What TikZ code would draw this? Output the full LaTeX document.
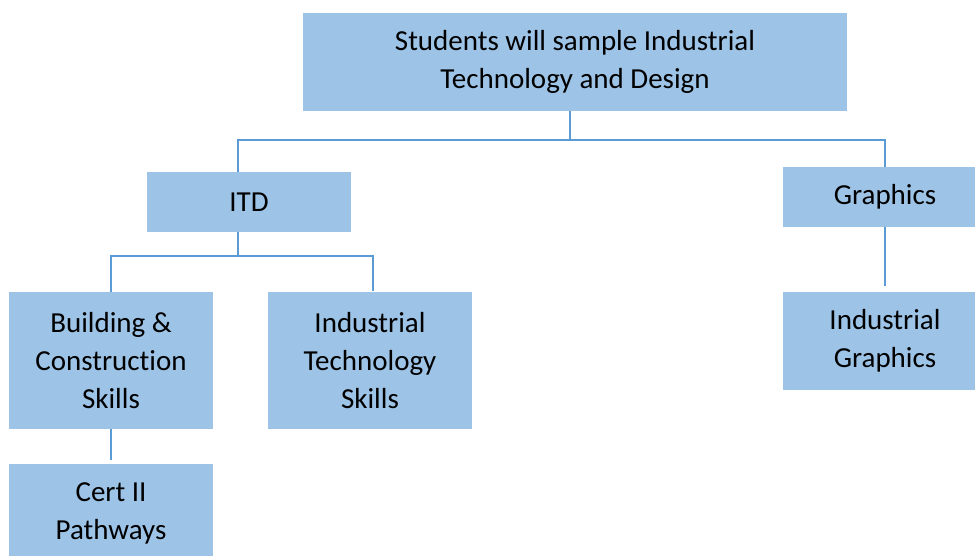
\documentclass[tikz,border=0pt]{standalone}
\usepackage{fontspec}
\setmainfont{Carlito}[Ligatures=NoCommon]
\definecolor{boxfill}{HTML}{9DC3E6}
\definecolor{linecol}{HTML}{5B9BD5}
\begin{document}
\begin{tikzpicture}[x=1pt,y=-1pt,
  box/.style={fill=boxfill,draw=none,inner sep=0pt,align=center,
    font=\fontsize{29}{38}\selectfont},
  conn/.style={draw=linecol,line width=2.2pt}]
\useasboundingbox (0,0) rectangle (975,555);
\begin{scope}
\clip (0,0) rectangle (975,555);
\node[box,minimum width=544pt,minimum height=98pt] (top) at (575,62) {Students will sample Industrial\\Technology and Design};
\node[box,minimum width=204pt,minimum height=60pt] (itd) at (249,202) {ITD};
\node[box,minimum width=204pt,minimum height=60pt] (gr) at (885,197) {Graphics};
\node[box,minimum width=204pt,minimum height=137pt] (bc) at (111,360.5) {Building \&\\Construction\\Skills};
\node[box,minimum width=204pt,minimum height=137pt] (its) at (370,360.5) {Industrial\\Technology\\Skills};
\node[box,minimum width=204pt,minimum height=98pt] (ig) at (885,341) {Industrial\\Graphics};
\node[box,minimum width=204pt,minimum height=98pt] (cert) at (111,513) {Cert II\\Pathways};
\end{scope}
\coordinate (j1) at (570,140);
\coordinate (j1a) at (570,111);
\coordinate (itdtop) at (238,172);
\coordinate (grtop) at (885,167);
\coordinate (j2) at (238,256);
\coordinate (j2a) at (238,232);
\coordinate (bctop) at (111,292);
\coordinate (itstop) at (373,291);
\coordinate (grbot) at (885,227);
\coordinate (igtop) at (885,286);
\coordinate (bcbot) at (111,429);
\coordinate (certtop) at (111,460);
\draw[conn] (j1a) -- (j1);
\draw[conn] (itdtop) |- (j1) -| (grtop);
\draw[conn] (j2a) -- (j2);
\draw[conn] (bctop) |- (j2) -| (itstop);
\draw[conn] (grbot) -- (igtop);
\draw[conn] (bcbot) -- (certtop);
\end{tikzpicture}
\end{document}
